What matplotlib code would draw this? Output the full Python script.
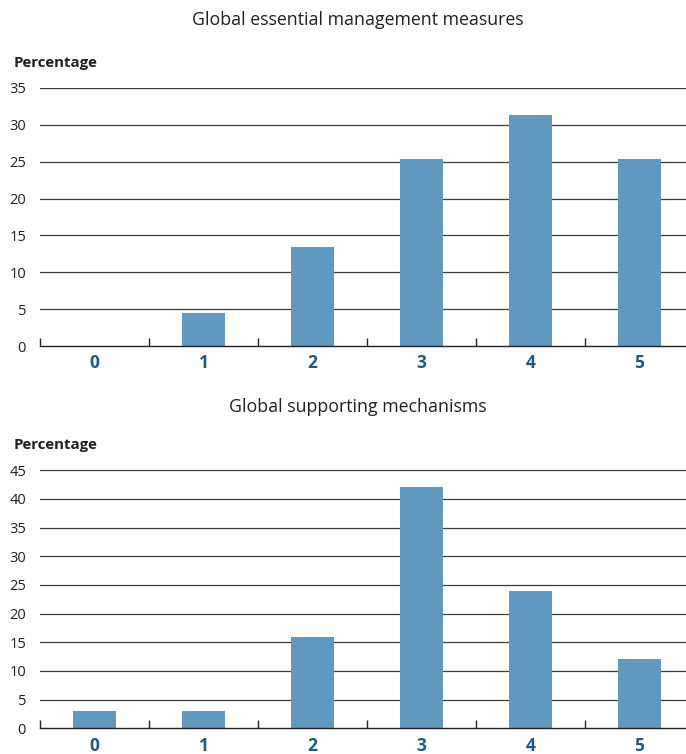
import numpy as np
import matplotlib
matplotlib.use("Agg")
import matplotlib.pyplot as plt

plt.rcParams['font.family'] = ['Open Sans', 'DejaVu Sans']

categories = ['0', '1', '2', '3', '4', '5']
essential_pct = [0.0, 4.5, 13.4, 25.4, 31.3, 25.4]
supporting_pct = [3.0, 3.0, 16.0, 42.0, 24.0, 12.0]

BAR_COLOR = '#6198bd'
LABEL_COLOR = '#1b5a85'
TEXT_COLOR = '#231f20'
GRID_COLOR = '#3a3a3a'

fig = plt.figure(figsize=(6.86, 7.54), dpi=100)


def draw_panel(rect, values, ymax, title, title_y, ylab_y):
    ax = fig.add_axes(rect)
    x = np.arange(len(categories))
    ax.bar(x, values, width=0.4, color=BAR_COLOR, zorder=3)
    ax.set_xlim(-0.5, 5.5)
    ax.set_ylim(0, ymax)
    ax.set_yticks(np.arange(0, ymax + 1, 5))
    for yv in np.arange(5, ymax + 1, 5):
        ax.axhline(yv, color=GRID_COLOR, lw=0.9, zorder=1)
    for s in ['top', 'right', 'left']:
        ax.spines[s].set_visible(False)
    ax.spines['bottom'].set_color('#222222')
    ax.spines['bottom'].set_linewidth(1.0)
    ax.spines['bottom'].set_zorder(4)
    ax.set_xticks(x)
    ax.set_xticklabels(categories, fontsize=12.5, fontweight='bold', color=LABEL_COLOR)
    ax.set_xticks(np.arange(-0.5, 5.5, 1.0), minor=True)
    ax.tick_params(axis='x', which='major', length=0, pad=6)
    ax.tick_params(axis='x', which='minor', direction='in', length=6, width=1.0, color='#222222')
    ax.tick_params(axis='y', length=0, pad=10, labelsize=10.5, labelcolor=TEXT_COLOR)
    for lab in ax.get_yticklabels():
        lab.set_horizontalalignment('right')
    fig.text(0.521, title_y, title, ha='center', va='center', fontsize=12.8, color=TEXT_COLOR)
    fig.text(0.02, ylab_y, 'Percentage', ha='left', va='center', fontsize=10.8,
             fontweight='bold', color=TEXT_COLOR)
    return ax


draw_panel([0.0583, 0.5411, 0.9534, 0.3422], essential_pct, 35,
           'Global essential management measures', 1 - 20 / 754, 1 - 63 / 754)
draw_panel([0.0583, 0.0341, 0.9534, 0.3422], supporting_pct, 45,
           'Global supporting mechanisms', 1 - 407 / 754, 1 - 445 / 754)

fig.savefig('out.png', dpi=100)
